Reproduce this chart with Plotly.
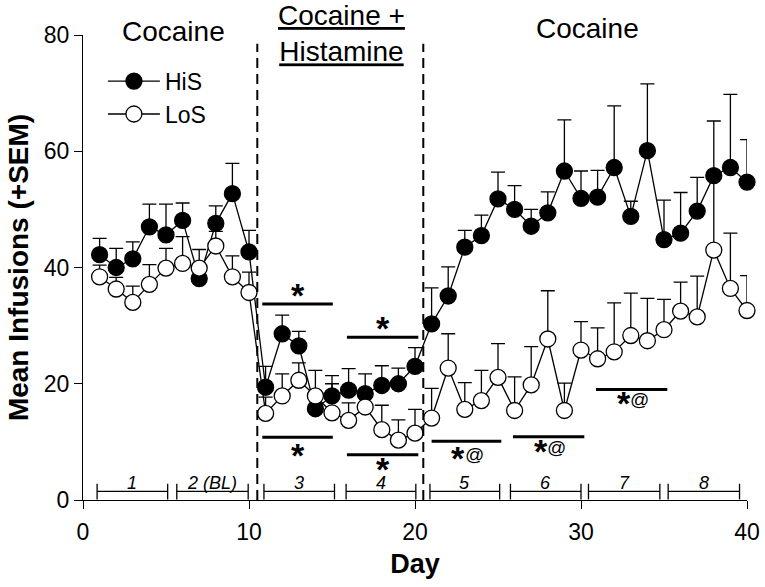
import plotly.graph_objects as go

# ---------------- data ----------------
days = list(range(1, 41))

his_mean = [42.2, 40.0, 41.5, 47.0, 45.6, 48.1, 38.1, 47.6, 52.7, 42.7,
            19.4, 28.6, 26.5, 15.7, 17.9, 18.9, 18.3, 19.7, 20.0, 23.0,
            30.3, 35.1, 43.5, 45.5, 51.8, 50.0, 47.1, 49.4, 56.6, 51.9,
            52.1, 57.2, 48.8, 60.1, 44.8, 45.9, 49.7, 55.8, 57.2, 54.7]
his_sem = [2.8, 3.3, 2.9, 3.9, 5.3, 3.0, 2.0, 3.0, 5.2, 3.7,
           3.6, 3.2, 2.5, 2.5, 3.5, 3.7, 3.4, 3.4, 2.7, 3.2,
           6.2, 5.0, 2.9, 3.5, 4.6, 4.1, 2.9, 3.6, 8.8, 4.7,
           4.6, 10.6, 2.6, 11.5, 6.8, 7.0, 5.8, 9.4, 12.6, 7.3]

los_mean = [38.4, 36.3, 34.0, 37.1, 39.9, 40.7, 39.9, 43.7, 38.4, 35.7,
            14.9, 17.9, 20.6, 17.9, 15.0, 13.7, 16.0, 12.1, 10.3, 11.5,
            14.1, 22.7, 15.6, 17.1, 21.1, 15.4, 19.8, 27.7, 15.4, 25.8,
            24.3, 25.5, 28.3, 27.4, 29.3, 32.5, 31.5, 43.0, 36.4, 32.6]
los_sem = [2.0, 2.0, 2.8, 3.4, 3.4, 4.6, 3.2, 2.5, 3.6, 3.5,
           2.8, 3.8, 3.0, 4.4, 5.0, 3.0, 3.0, 4.2, 3.5, 4.1,
           5.1, 5.9, 4.6, 5.2, 5.8, 5.8, 6.6, 8.3, 4.7, 4.9,
           5.3, 8.4, 7.3, 7.3, 5.2, 5.0, 7.0, 12.5, 9.5, 6.0]

# phase brackets along the bottom
phase_labels = ["1", "2 (BL)", "3", "4", "5", "6", "7", "8"]
phase_start = [0.85, 5.65, 10.9, 15.85, 20.9, 25.75, 30.45, 35.25]
phase_end = [5.1, 9.95, 15.15, 20.05, 25.1, 30.0, 34.75, 39.55]
phase_level = 1.5

# condition boundaries
boundaries = [10.5, 20.5]
boundary_top = 78.5

# condition headers
header_texts = ["Cocaine", "<u>Cocaine +</u><br><u>Histamine</u>", "Cocaine"]
header_x = [5.45, 15.6, 30.4]
header_y = [1.0065, 1.004, 1.013]

# significance bars
sig_start = [10.8, 15.9, 10.8, 15.9, 21.0, 25.9, 30.9]
sig_end = [15.05, 20.2, 15.05, 20.2, 25.2, 30.2, 35.2]
sig_level = [33.7, 28.0, 10.8, 7.8, 10.1, 10.9, 19.0]
sig_label = ["*", "*", "*", "*", "*@", "*@", "*@"]
sig_label_level = [35.3, 29.6, 7.8, 5.3, 7.3, 8.5, 16.7]

# ---------------- figure ----------------
FONT = "Arial, Liberation Sans, sans-serif"
fig = go.Figure()

fig.add_trace(go.Scatter(
    x=days, y=his_mean, name="HiS", mode="lines+markers",
    line=dict(color="black", width=1.3),
    marker=dict(size=16, color="black", line=dict(color="black", width=1.3)),
    error_y=dict(type="data", array=his_sem, symmetric=False,
                 arrayminus=[0] * len(his_sem), color="black",
                 thickness=1.3, width=7),
    cliponaxis=False,
))
fig.add_trace(go.Scatter(
    x=days, y=los_mean, name="LoS", mode="lines+markers",
    line=dict(color="black", width=1.3),
    marker=dict(size=16, color="white", line=dict(color="black", width=1.3)),
    error_y=dict(type="data", array=los_sem, symmetric=False,
                 arrayminus=[0] * len(los_sem), color="black",
                 thickness=1.3, width=7),
    cliponaxis=False,
))

shapes = []
annotations = []

# dashed boundaries
for b in boundaries:
    shapes.append(dict(type="line", xref="x", yref="y", x0=b, x1=b, y0=0,
                       y1=boundary_top,
                       line=dict(color="black", width=2, dash="10px,6px")))

# phase brackets
for s, e, lab in zip(phase_start, phase_end, phase_labels):
    shapes.append(dict(type="line", xref="x", yref="y", x0=s, x1=e,
                       y0=phase_level, y1=phase_level,
                       line=dict(color="black", width=1.3)))
    for xx in (s, e):
        shapes.append(dict(type="line", xref="x", yref="y", x0=xx, x1=xx,
                           y0=0.1, y1=2.8, line=dict(color="black", width=1.3)))
    annotations.append(dict(x=(s + e) / 2, y=3.0, xref="x", yref="y",
                            text="<i>" + lab + "</i>", showarrow=False,
                            yanchor="middle",
                            font=dict(family=FONT, size=18, color="black")))

# significance bars
for s, e, lv, lab, ll in zip(sig_start, sig_end, sig_level, sig_label,
                             sig_label_level):
    shapes.append(dict(type="line", xref="x", yref="y", x0=s, x1=e,
                       y0=lv, y1=lv, line=dict(color="black", width=3)))
    cx = (s + e) / 2
    if lab == "*":
        annotations.append(dict(x=cx, y=ll, xref="x", yref="y",
                                text="<b>*</b>", showarrow=False,
                                yanchor="middle",
                                font=dict(family=FONT, size=34, color="black")))
    else:
        annotations.append(dict(x=cx, y=ll, xref="x", yref="y", xshift=-8,
                                text="<b>*</b>", showarrow=False,
                                yanchor="middle",
                                font=dict(family=FONT, size=34, color="black")))
        annotations.append(dict(x=cx, y=ll + 0.6, xref="x", yref="y", xshift=8,
                                text="@", showarrow=False, yanchor="middle",
                                font=dict(family=FONT, size=19, color="black")))

# headers
for t, hx, hy in zip(header_texts, header_x, header_y):
    annotations.append(dict(x=hx, y=hy, xref="x", yref="paper", text=t,
                            showarrow=False, yanchor="middle",
                            font=dict(family=FONT, size=28, color="black")))

fig.update_layout(
    width=765, height=587,
    margin=dict(l=83, r=18, t=35, b=87, autoexpand=False),
    paper_bgcolor="white", plot_bgcolor="white",
    font=dict(family=FONT, color="black"),
    showlegend=True,
    legend=dict(x=0.03, y=0.947, xanchor="left", yanchor="top",
                font=dict(family=FONT, size=23, color="black"),
                bgcolor="rgba(0,0,0,0)", tracegroupgap=0, itemwidth=52),
    shapes=shapes, annotations=annotations,
)
fig.update_xaxes(
    range=[0, 40], tickvals=[0, 10, 20, 30, 40], ticks="outside", ticklen=8,
    tickwidth=1.3, tickcolor="black", showline=True, linecolor="black",
    linewidth=1.3, showgrid=False, zeroline=False,
    tickfont=dict(family=FONT, size=23, color="black"),
    ticklabelstandoff=3,
    title=dict(text="<b>Day</b>", font=dict(family=FONT, size=27, color="black"),
               standoff=10),
)
fig.update_yaxes(
    range=[0, 80], tickvals=[0, 20, 40, 60, 80], ticks="outside", ticklen=8,
    tickwidth=1.3, tickcolor="black", showline=True, linecolor="black",
    linewidth=1.3, showgrid=False, zeroline=False,
    tickfont=dict(family=FONT, size=23, color="black"),
    title=dict(text="<b>Mean Infusions (+SEM)</b>",
               font=dict(family=FONT, size=28, color="black"), standoff=6),
)

fig.write_html("out.html", config={"displayModeBar": False},
               post_script="document.body.style.margin='0';")
